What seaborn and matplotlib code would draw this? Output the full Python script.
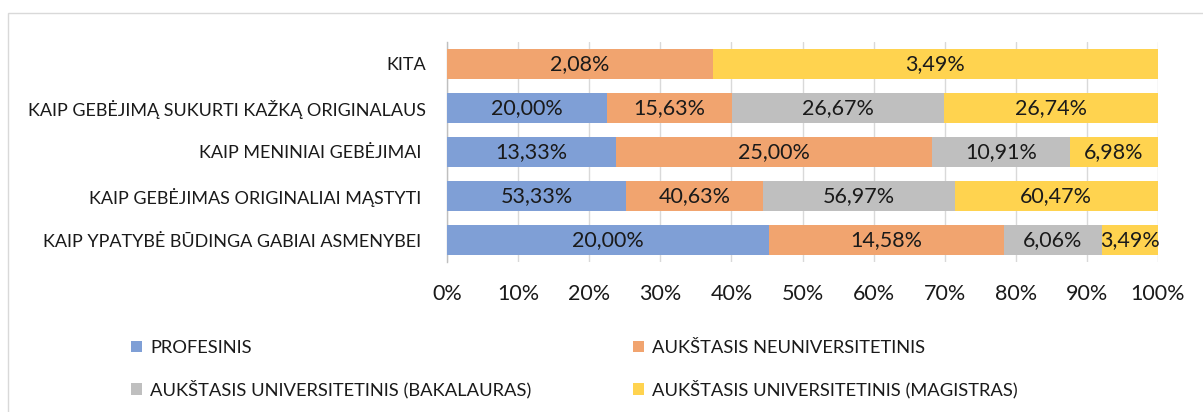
import numpy as np
import pandas as pd
import matplotlib
matplotlib.use("Agg")
import matplotlib.pyplot as plt
import seaborn as sns
from matplotlib.patches import Rectangle, Patch

categories = [
    "KITA",
    "KAIP GEBĖJIMĄ SUKURTI KAŽKĄ ORIGINALAUS",
    "KAIP MENINIAI GEBĖJIMAI ",
    "KAIP GEBĖJIMAS ORIGINALIAI MĄSTYTI ",
    "KAIP YPATYBĖ BŪDINGA GABIAI ASMENYBEI ",
]
series_names = [
    "PROFESINIS",
    "AUKŠTASIS NEUNIVERSITETINIS",
    "AUKŠTASIS UNIVERSITETINIS (BAKALAURAS)",
    "AUKŠTASIS UNIVERSITETINIS (MAGISTRAS)",
]
profesinis = [0.00, 20.00, 13.33, 53.33, 20.00]
neuniversitetinis = [2.08, 15.63, 25.00, 40.63, 14.58]
bakalauras = [0.00, 26.67, 10.91, 56.97, 6.06]
magistras = [3.49, 26.74, 6.98, 60.47, 3.49]
x_ticks = [0, 10, 20, 30, 40, 50, 60, 70, 80, 90, 100]
x_tick_labels = [f"{t}%" for t in x_ticks]

colors = ["#7F9FD6", "#F1A46F", "#BFBFBF", "#FFD34F"]
text_color = "#1a1a1a"

sns.set_theme(style="white")
plt.rcParams["font.family"] = ["Lato", "DejaVu Sans"]

vals = np.array([profesinis, neuniversitetinis, bakalauras, magistras])
shares = vals / vals.sum(axis=0) * 100
cum = np.cumsum(shares, axis=0)

fig = plt.figure(figsize=(12.03, 4.12), dpi=100)
ax = fig.add_axes([447 / 1203, 1 - 262 / 412, (1158 - 447) / 1203, 220 / 412])

for i in range(3, -1, -1):
    df = pd.DataFrame({"cat": categories, "val": cum[i]})
    sns.barplot(data=df, y="cat", x="val", order=categories, color=colors[i],
                width=0.66, linewidth=0, saturation=1, ax=ax, zorder=3)

for i in range(4):
    for j, cat in enumerate(categories):
        v = vals[i, j]
        if v <= 0:
            continue
        left = cum[i, j] - shares[i, j]
        cx = left + shares[i, j] / 2
        ax.text(cx, j, f"{v:.2f}".replace(".", ",") + "%", ha="center", va="center",
                fontsize=15.5, color=text_color, zorder=5)

ax.set_xlim(0, 100)
ax.set_ylim(4.5, -0.5)
ax.set_xticks(x_ticks)
ax.set_xticklabels(x_tick_labels)
ax.set_xlabel("")
ax.set_ylabel("")
ax.grid(axis="x", color="#D9D9D9", linewidth=1, zorder=0)
ax.grid(axis="y", visible=False)
ax.set_axisbelow(True)
for s in ["top", "right", "bottom"]:
    ax.spines[s].set_visible(False)
ax.spines["left"].set_color("#BFBFBF")
ax.spines["left"].set_linewidth(1)
ax.tick_params(axis="x", length=0, pad=16, labelsize=15.5, labelcolor=text_color)
ax.tick_params(axis="y", length=0, pad=15, labelsize=13, labelcolor=text_color)

handles = [Patch(facecolor=c, edgecolor="none") for c in colors]
common = dict(frameon=False, fontsize=13.2, handlelength=0.62, handleheight=0.62,
              handletextpad=0.42, labelspacing=1.3, borderpad=0, borderaxespad=0,
              loc="upper left")
leg1 = fig.legend([handles[0], handles[2]], [series_names[0], series_names[2]],
                  bbox_to_anchor=(131 / 1203, 1 - 340 / 412), **common)
leg2 = fig.legend([handles[1], handles[3]], [series_names[1], series_names[3]],
                  bbox_to_anchor=(633 / 1203, 1 - 340 / 412), **common)
for leg in (leg1, leg2):
    for t in leg.get_texts():
        t.set_color(text_color)

fig.add_artist(Rectangle((8 / 1203, -0.2), 2, 1.2 - 13 / 412, transform=fig.transFigure,
                         fill=False, edgecolor="#D9D9D9", linewidth=1))

fig.savefig("out.png", dpi=100, facecolor="white")
